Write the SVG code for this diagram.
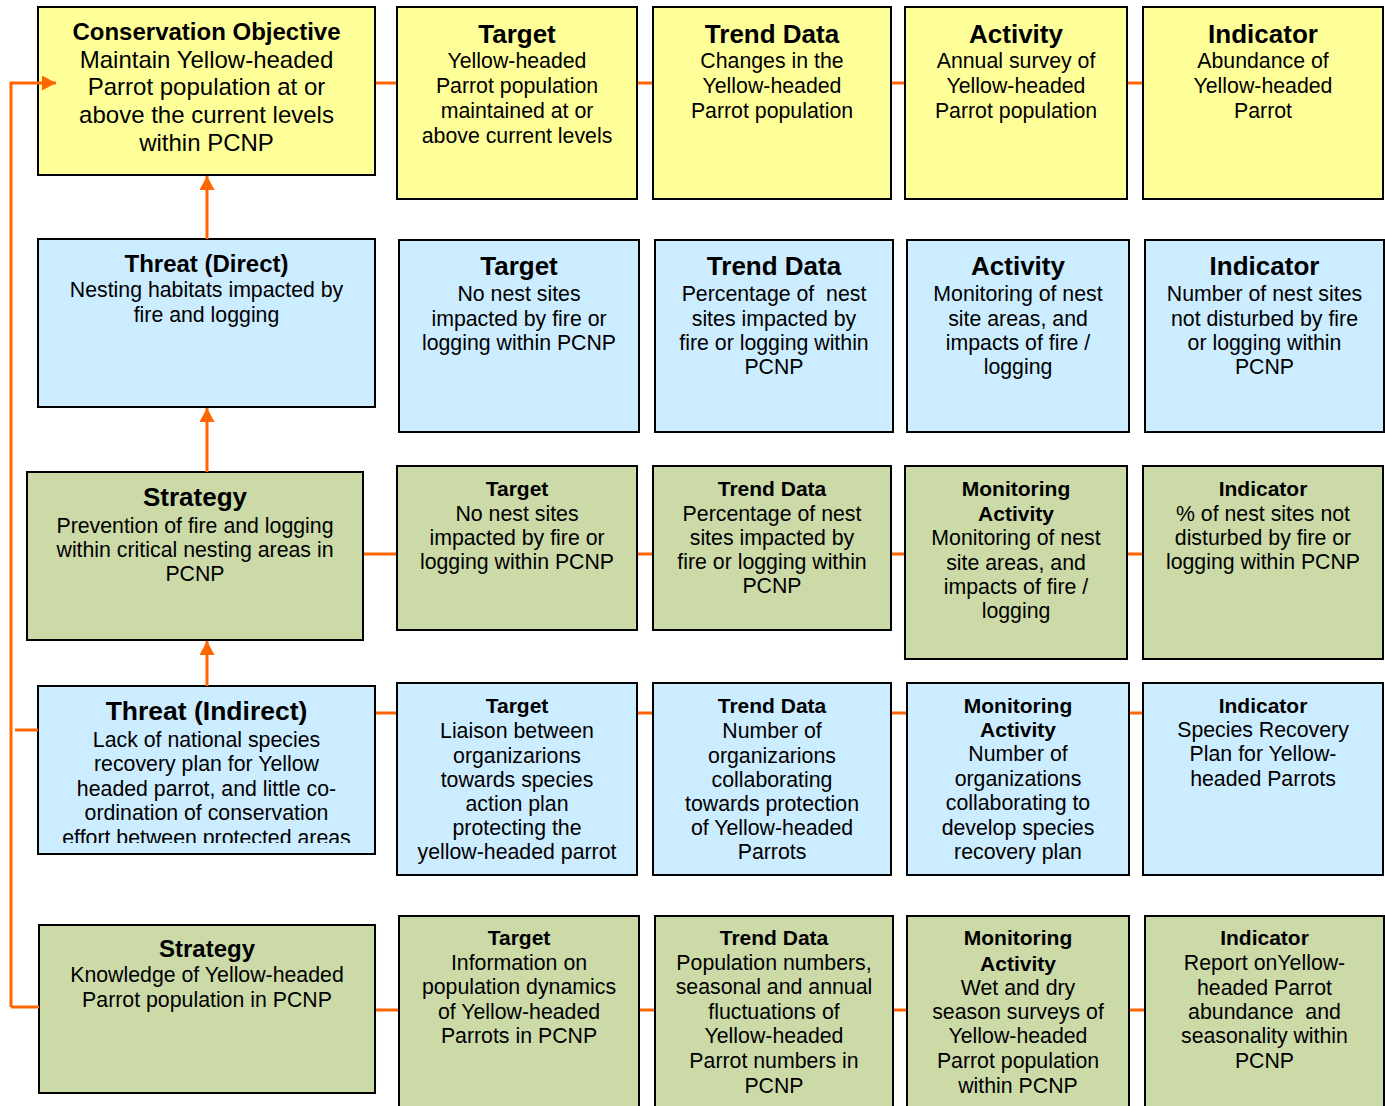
<svg xmlns="http://www.w3.org/2000/svg" width="1385" height="1106" viewBox="0 0 1385 1106">
<style>
text{font-family:"Liberation Sans",Arial,sans-serif;fill:#000;text-anchor:middle;}
.box{stroke:#000;stroke-width:2;}
.y{fill:#FFFF99;}
.b{fill:#CCECFF;}
.g{fill:#CCDAA8;}
.t26{font-size:26px;font-weight:bold;}
.t24{font-size:24px;font-weight:bold;}
.t21{font-size:21px;font-weight:bold;}
.p{font-size:21.3px;}
.p24{font-size:24px;}
.c{stroke:#FF6600;stroke-width:3;fill:none;}
</style>
<defs>
<marker id="ah" markerUnits="userSpaceOnUse" markerWidth="14" markerHeight="15" refX="14" refY="7.5" orient="auto">
<path d="M0,0 L14,7.5 L0,15 z" fill="#FF6600"/>
</marker>
<clipPath id="clipTI"><rect x="38" y="686" width="337" height="157"/></clipPath>
</defs>
<rect width="1385" height="1106" fill="#fff"/>

<!-- Row 1 -->
<g id="conservation-objective">
<rect class="box y" x="38" y="7" width="337" height="168"/>
<text class="t24" x="206.5" y="40">Conservation Objective</text>
<text class="p24" x="206.5" y="67.5">Maintain Yellow-headed</text>
<text class="p24" x="206.5" y="95.2">Parrot population at or</text>
<text class="p24" x="206.5" y="122.9">above the current levels</text>
<text class="p24" x="206.5" y="150.6">within PCNP</text>
</g>
<g id="r1-target">
<rect class="box y" x="397" y="7" width="240" height="192"/>
<text class="t26" x="517" y="42.7">Target</text>
<text class="p" x="517" y="68.3">Yellow-headed</text>
<text class="p" x="517" y="93.3">Parrot population</text>
<text class="p" x="517" y="118.3">maintained at or</text>
<text class="p" x="517" y="142.7">above current levels</text>
</g>
<g id="r1-trend">
<rect class="box y" x="653" y="7" width="238" height="192"/>
<text class="t26" x="772" y="42.7">Trend Data</text>
<text class="p" x="772" y="68.3">Changes in the</text>
<text class="p" x="772" y="93.3">Yellow-headed</text>
<text class="p" x="772" y="118.3">Parrot population</text>
</g>
<g id="r1-activity">
<rect class="box y" x="905" y="7" width="222" height="192"/>
<text class="t26" x="1016" y="42.7">Activity</text>
<text class="p" x="1016" y="68.3">Annual survey of</text>
<text class="p" x="1016" y="93.3">Yellow-headed</text>
<text class="p" x="1016" y="118.3">Parrot population</text>
</g>
<g id="r1-indicator">
<rect class="box y" x="1143" y="7" width="240" height="192"/>
<text class="t26" x="1263" y="42.7">Indicator</text>
<text class="p" x="1263" y="68.3">Abundance of</text>
<text class="p" x="1263" y="93.3">Yellow-headed</text>
<text class="p" x="1263" y="118.3">Parrot</text>
</g>

<!-- Row 2 -->
<g id="threat-direct">
<rect class="box b" x="38" y="239" width="337" height="168"/>
<text class="t24" x="206.5" y="272">Threat (Direct)</text>
<text class="p" x="206.5" y="297">Nesting habitats impacted by</text>
<text class="p" x="206.5" y="322">fire and logging</text>
</g>
<g id="r2-target">
<rect class="box b" x="399" y="240" width="240" height="192"/>
<text class="t26" x="519" y="275">Target</text>
<text class="p" x="519" y="300.7">No nest sites</text>
<text class="p" x="519" y="325.5">impacted by fire or</text>
<text class="p" x="519" y="350">logging within PCNP</text>
</g>
<g id="r2-trend">
<rect class="box b" x="655" y="240" width="238" height="192"/>
<text class="t26" x="774" y="275">Trend Data</text>
<text class="p" x="774" y="300.7" xml:space="preserve">Percentage of  nest</text>
<text class="p" x="774" y="325.5">sites impacted by</text>
<text class="p" x="774" y="350">fire or logging within</text>
<text class="p" x="774" y="374">PCNP</text>
</g>
<g id="r2-activity">
<rect class="box b" x="907" y="240" width="222" height="192"/>
<text class="t26" x="1018" y="275">Activity</text>
<text class="p" x="1018" y="300.7">Monitoring of nest</text>
<text class="p" x="1018" y="325.5">site areas, and</text>
<text class="p" x="1018" y="350">impacts of fire /</text>
<text class="p" x="1018" y="374">logging</text>
</g>
<g id="r2-indicator">
<rect class="box b" x="1145" y="240" width="239" height="192"/>
<text class="t26" x="1264.5" y="275">Indicator</text>
<text class="p" x="1264.5" y="300.7">Number of nest sites</text>
<text class="p" x="1264.5" y="325.5">not disturbed by fire</text>
<text class="p" x="1264.5" y="350">or logging within</text>
<text class="p" x="1264.5" y="374">PCNP</text>
</g>

<!-- Row 3 -->
<g id="strategy-1">
<rect class="box g" x="27" y="472" width="336" height="168"/>
<text class="t26" x="195" y="506">Strategy</text>
<text class="p" x="195" y="533">Prevention of fire and logging</text>
<text class="p" x="195" y="557">within critical nesting areas in</text>
<text class="p" x="195" y="581">PCNP</text>
</g>
<g id="r3-target">
<rect class="box g" x="397" y="466" width="240" height="164"/>
<text class="t21" x="517" y="495.7">Target</text>
<text class="p" x="517" y="521">No nest sites</text>
<text class="p" x="517" y="545">impacted by fire or</text>
<text class="p" x="517" y="569.3">logging within PCNP</text>
</g>
<g id="r3-trend">
<rect class="box g" x="653" y="466" width="238" height="164"/>
<text class="t21" x="772" y="495.7">Trend Data</text>
<text class="p" x="772" y="521">Percentage of nest</text>
<text class="p" x="772" y="545">sites impacted by</text>
<text class="p" x="772" y="569.3">fire or logging within</text>
<text class="p" x="772" y="593.3">PCNP</text>
</g>
<g id="r3-monitoring">
<rect class="box g" x="905" y="466" width="222" height="193"/>
<text class="t21" x="1016" y="495.7">Monitoring</text>
<text class="t21" x="1016" y="521">Activity</text>
<text class="p" x="1016" y="545">Monitoring of nest</text>
<text class="p" x="1016" y="569.5">site areas, and</text>
<text class="p" x="1016" y="594">impacts of fire /</text>
<text class="p" x="1016" y="618">logging</text>
</g>
<g id="r3-indicator">
<rect class="box g" x="1143" y="466" width="240" height="193"/>
<text class="t21" x="1263" y="495.7">Indicator</text>
<text class="p" x="1263" y="521">% of nest sites not</text>
<text class="p" x="1263" y="545">disturbed by fire or</text>
<text class="p" x="1263" y="569.3">logging within PCNP</text>
</g>

<!-- Row 4 -->
<g id="threat-indirect">
<rect class="box b" x="38" y="686" width="337" height="168"/>
<text class="t26" x="206.5" y="720" style="font-size:26.5px">Threat (Indirect)</text>
<g clip-path="url(#clipTI)">
<text class="p" x="206.5" y="746.5">Lack of national species</text>
<text class="p" x="206.5" y="771">recovery plan for Yellow</text>
<text class="p" x="206.5" y="795.5">headed parrot, and little co-</text>
<text class="p" x="206.5" y="820">ordination of conservation</text>
<text class="p" x="206.5" y="844.5">effort between protected areas</text>
</g>
</g>
<g id="r4-target">
<rect class="box b" x="397" y="683" width="240" height="192"/>
<text class="t21" x="517" y="713.3">Target</text>
<text class="p" x="517" y="738.3">Liaison between</text>
<text class="p" x="517" y="762.5">organizarions</text>
<text class="p" x="517" y="786.7">towards species</text>
<text class="p" x="517" y="811">action plan</text>
<text class="p" x="517" y="835">protecting the</text>
<text class="p" x="517" y="859.3">yellow-headed parrot</text>
</g>
<g id="r4-trend">
<rect class="box b" x="653" y="683" width="238" height="192"/>
<text class="t21" x="772" y="713.3">Trend Data</text>
<text class="p" x="772" y="738.3">Number of</text>
<text class="p" x="772" y="762.5">organizarions</text>
<text class="p" x="772" y="786.7">collaborating</text>
<text class="p" x="772" y="811">towards protection</text>
<text class="p" x="772" y="835">of Yellow-headed</text>
<text class="p" x="772" y="859.3">Parrots</text>
</g>
<g id="r4-monitoring">
<rect class="box b" x="907" y="683" width="222" height="192"/>
<text class="t21" x="1018" y="712.7">Monitoring</text>
<text class="t21" x="1018" y="736.7">Activity</text>
<text class="p" x="1018" y="761">Number of</text>
<text class="p" x="1018" y="785.7">organizations</text>
<text class="p" x="1018" y="810">collaborating to</text>
<text class="p" x="1018" y="834.7">develop species</text>
<text class="p" x="1018" y="859">recovery plan</text>
</g>
<g id="r4-indicator">
<rect class="box b" x="1143" y="683" width="240" height="192"/>
<text class="t21" x="1263" y="712.7">Indicator</text>
<text class="p" x="1263" y="737">Species Recovery</text>
<text class="p" x="1263" y="761">Plan for Yellow-</text>
<text class="p" x="1263" y="786">headed Parrots</text>
</g>

<!-- Row 5 -->
<g id="strategy-2">
<rect class="box g" x="39" y="925" width="336" height="168"/>
<text class="t24" x="207" y="956.7">Strategy</text>
<text class="p" x="207" y="981.7">Knowledge of Yellow-headed</text>
<text class="p" x="207" y="1006.7">Parrot population in PCNP</text>
</g>
<g id="r5-target">
<rect class="box g" x="399" y="916" width="240" height="200"/>
<text class="t21" x="519" y="945">Target</text>
<text class="p" x="519" y="970">Information on</text>
<text class="p" x="519" y="994.3">population dynamics</text>
<text class="p" x="519" y="1019">of Yellow-headed</text>
<text class="p" x="519" y="1043.3">Parrots in PCNP</text>
</g>
<g id="r5-trend">
<rect class="box g" x="655" y="916" width="238" height="200"/>
<text class="t21" x="774" y="945">Trend Data</text>
<text class="p" x="774" y="970">Population numbers,</text>
<text class="p" x="774" y="994.3">seasonal and annual</text>
<text class="p" x="774" y="1019">fluctuations of</text>
<text class="p" x="774" y="1043.3">Yellow-headed</text>
<text class="p" x="774" y="1067.7">Parrot numbers in</text>
<text class="p" x="774" y="1092.5">PCNP</text>
</g>
<g id="r5-monitoring">
<rect class="box g" x="907" y="916" width="222" height="200"/>
<text class="t21" x="1018" y="945">Monitoring</text>
<text class="t21" x="1018" y="970.5">Activity</text>
<text class="p" x="1018" y="994.7">Wet and dry</text>
<text class="p" x="1018" y="1019">season surveys of</text>
<text class="p" x="1018" y="1043.3">Yellow-headed</text>
<text class="p" x="1018" y="1067.7">Parrot population</text>
<text class="p" x="1018" y="1092.5">within PCNP</text>
</g>
<g id="r5-indicator">
<rect class="box g" x="1145" y="916" width="239" height="200"/>
<text class="t21" x="1264.5" y="945">Indicator</text>
<text class="p" x="1264.5" y="970">Report onYellow-</text>
<text class="p" x="1264.5" y="994.7">headed Parrot</text>
<text class="p" x="1264.5" y="1019" xml:space="preserve">abundance  and</text>
<text class="p" x="1264.5" y="1043.3">seasonality within</text>
<text class="p" x="1264.5" y="1067.7">PCNP</text>
</g>

<g id="connectors">
<polyline class="c" points="11,1007 11,83 56,83" marker-end="url(#ah)"/>
<line class="c" x1="11" y1="1007" x2="39" y2="1007"/>
<line class="c" x1="15" y1="730" x2="38" y2="730"/>
<line class="c" x1="207" y1="239" x2="207" y2="176" marker-end="url(#ah)"/>
<line class="c" x1="207" y1="472" x2="207" y2="408" marker-end="url(#ah)"/>
<line class="c" x1="207" y1="686" x2="207" y2="641" marker-end="url(#ah)"/>
<line class="c" x1="376" y1="83" x2="396" y2="83"/>
<line class="c" x1="638" y1="83" x2="652" y2="83"/>
<line class="c" x1="892" y1="83" x2="904" y2="83"/>
<line class="c" x1="1128" y1="83" x2="1142" y2="83"/>
<line class="c" x1="364" y1="554" x2="396" y2="554"/>
<line class="c" x1="638" y1="554" x2="652" y2="554"/>
<line class="c" x1="892" y1="554" x2="904" y2="554"/>
<line class="c" x1="1128" y1="554" x2="1142" y2="554"/>
<line class="c" x1="376" y1="713" x2="396" y2="713"/>
<line class="c" x1="638" y1="713" x2="652" y2="713"/>
<line class="c" x1="892" y1="713" x2="906" y2="713"/>
<line class="c" x1="1130" y1="713" x2="1142" y2="713"/>
<line class="c" x1="376" y1="1010" x2="398" y2="1010"/>
<line class="c" x1="640" y1="1010" x2="654" y2="1010"/>
<line class="c" x1="894" y1="1010" x2="906" y2="1010"/>
<line class="c" x1="1130" y1="1010" x2="1144" y2="1010"/>
</g>
</svg>
